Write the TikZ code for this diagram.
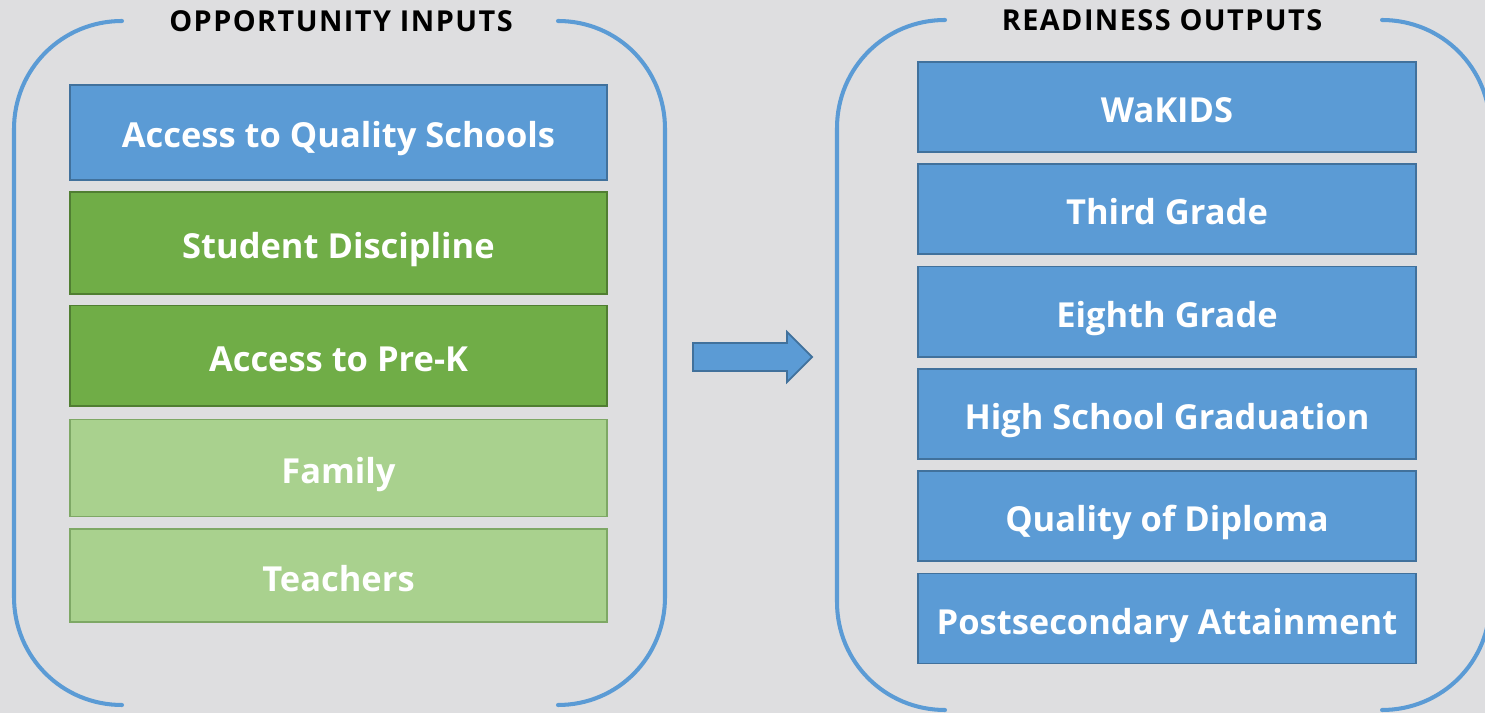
\documentclass[tikz,border=0pt]{standalone}
\usepackage{fontspec}
\setmainfont{Open Sans}
\newfontfamily\titlefont{Open Sans}[LetterSpace=5]
\usepackage{xcolor}
\usetikzlibrary{positioning,calc}

\definecolor{bgcol}{HTML}{DEDEE0}
\definecolor{bluefill}{HTML}{5B9BD5}
\definecolor{blueline}{HTML}{41719C}
\definecolor{darkgreen}{HTML}{70AD47}
\definecolor{darkgreenline}{HTML}{507E32}
\definecolor{lightgreen}{HTML}{A9D18E}
\definecolor{lightgreenline}{HTML}{7EA865}

\tikzset{
    box/.style={draw, line width=0.5pt, text=white, font=\fontsize{9.8}{12}\selectfont\bfseries, inner sep=0pt, text height=0.88em, text depth=0pt},
    bluebox/.style={box, fill=bluefill, draw=blueline},
    greenbox/.style={box, fill=darkgreen, draw=darkgreenline},
    palebox/.style={box, fill=lightgreen, draw=lightgreenline},
    bracket/.style={draw=bluefill, line width=1.15pt, line cap=round},
    heading/.style={font=\fontsize{8.2}{10}\titlefont\bfseries, text=black}
}

\begin{document}
\begin{tikzpicture}[x=0.01cm, y=-0.01cm]
    \fill[bgcol] (0,0) rectangle (1485,713);
    \useasboundingbox (0,0) rectangle (1485,713);

    % inputs
    \node[heading] (intitle) at (341,21) {OPPORTUNITY INPUTS};
    \node[bluebox, minimum width=5.37cm, minimum height=0.95cm] (schools) at (338.5,132.5) {Access to Quality Schools};
    \node[greenbox, minimum width=5.37cm, minimum height=1.02cm, below=0.10cm of schools] (discipline) {Student Discipline};
    \node[greenbox, minimum width=5.37cm, minimum height=1.00cm, below=0.10cm of discipline] (prek) {Access to Pre-K};
    \node[palebox, minimum width=5.37cm, minimum height=0.97cm, below=0.12cm of prek] (family) {Family};
    \node[palebox, minimum width=5.37cm, minimum height=0.93cm, below=0.11cm of family] (teachers) {Teachers};

    \draw[bracket] (122,21) .. controls (62,21) and (14,69) .. (14,129) -- (14,597) .. controls (14,657) and (62,705) .. (122,705);
    \draw[bracket] (558,21) .. controls (618,21) and (665,69) .. (665,129) -- (665,597) .. controls (665,657) and (618,705) .. (558,705);

    % arrow
    \draw[fill=bluefill, draw=blueline, line width=0.5pt] (693,343) -- (787,343) -- (787,332) -- (812,357) -- (787,382) -- (787,371) -- (693,371) -- cycle;

    % outputs
    \node[heading] (outtitle) at (1162,20) {READINESS OUTPUTS};
    \node[bluebox, minimum width=4.98cm, minimum height=0.90cm] (wakids) at (1167,107) {WaKIDS};
    \node[bluebox, minimum width=4.98cm, minimum height=0.90cm, below=0.105cm of wakids] (third) {Third Grade};
    \node[bluebox, minimum width=4.98cm, minimum height=0.90cm, below=0.105cm of third] (eighth) {Eighth Grade};
    \node[bluebox, minimum width=4.98cm, minimum height=0.90cm, below=0.105cm of eighth] (hsgrad) {High School Graduation};
    \node[bluebox, minimum width=4.98cm, minimum height=0.90cm, below=0.105cm of hsgrad] (diploma) {Quality of Diploma};
    \node[bluebox, minimum width=4.98cm, minimum height=0.90cm, below=0.105cm of diploma] (postsec) {Postsecondary Attainment};

    \draw[bracket] (945,20) .. controls (885,20) and (837,68) .. (837,128) -- (837,602) .. controls (837,662) and (885,710) .. (945,710);
    \draw[bracket] (1382,20) .. controls (1442,20) and (1490,68) .. (1490,128) -- (1490,602) .. controls (1490,662) and (1442,710) .. (1382,710);
\end{tikzpicture}
\end{document}
